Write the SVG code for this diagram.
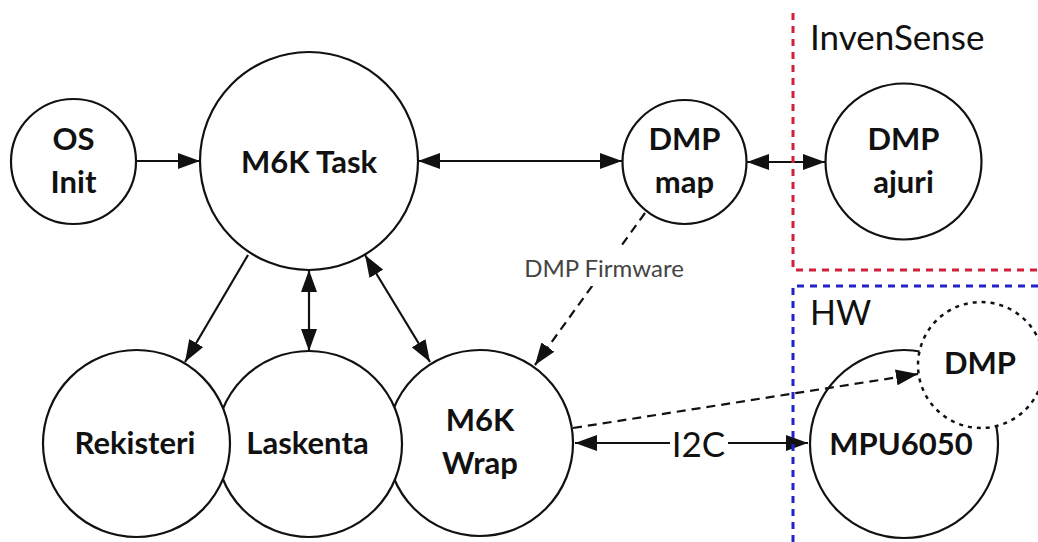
<svg xmlns="http://www.w3.org/2000/svg" width="1038" height="542" viewBox="0 0 1038 542">
<style>
.node{fill:#fff;stroke:#111;stroke-width:2.2}
.dot{fill:#fff;stroke:#111;stroke-width:2.5;stroke-dasharray:4 5}
.lbl{font-family:Lato,"Liberation Sans",sans-serif;font-weight:bold;font-size:31px;fill:#111;text-anchor:middle}
.reg{font-family:Lato,"Liberation Sans",sans-serif;font-weight:normal;fill:#111}
.c{fill:none;stroke:#111;stroke-width:2.2}
.dash{stroke-dasharray:9 6}
.red{fill:none;stroke:#d0203a;stroke-width:3;stroke-dasharray:7 6}
.blue{fill:none;stroke:#2222c8;stroke-width:3;stroke-dasharray:7 6}
</style>
<defs>
<marker id="arr" viewBox="0 0 22 16" refX="22" refY="8" markerWidth="22" markerHeight="16" markerUnits="userSpaceOnUse" orient="auto-start-reverse">
<path d="M0,0 L22,8 L0,16 z" fill="#111"/>
</marker>
</defs>
<rect width="1038" height="542" fill="#fff"/>

<g id="os-init"><circle class="node" cx="73.5" cy="161.5" r="62.5"/><text class="lbl" x="73.5" y="150">OS</text><text class="lbl" x="73.5" y="193">Init</text></g>
<g id="m6k-task"><circle class="node" cx="309" cy="161" r="109"/><text class="lbl" x="309" y="173">M6K Task</text></g>
<g id="dmp-map"><circle class="node" cx="684.5" cy="162" r="62"/><text class="lbl" x="684.5" y="150">DMP</text><text class="lbl" x="684.5" y="193">map</text></g>
<g id="dmp-ajuri"><circle class="node" cx="903.5" cy="161.5" r="78"/><text class="lbl" x="903.5" y="150">DMP</text><text class="lbl" x="903.5" y="193">ajuri</text></g>
<g id="m6k-wrap"><circle class="node" cx="480" cy="443" r="93"/><text class="lbl" x="480" y="431">M6K</text><text class="lbl" x="480" y="474">Wrap</text></g>
<g id="laskenta"><circle class="node" cx="309" cy="444" r="93"/><text class="lbl" x="307.5" y="454">Laskenta</text></g>
<g id="rekisteri"><circle class="node" cx="136.5" cy="443.5" r="93.5"/><text class="lbl" x="135" y="454">Rekisteri</text></g>
<g id="mpu6050"><circle class="node" cx="904" cy="444" r="94"/><text class="lbl" x="901" y="455">MPU6050</text></g>
<g id="dmp"><circle class="dot" cx="981" cy="365" r="63"/><text class="lbl" x="980" y="374">DMP</text></g>

<g id="connectors">
<path class="c" d="M136,161 L200,161" marker-end="url(#arr)"/>
<path class="c" d="M418,161 L622,161" marker-start="url(#arr)" marker-end="url(#arr)"/>
<path class="c" d="M747,162 L825,162" marker-start="url(#arr)" marker-end="url(#arr)"/>
<path class="c" d="M248,255 L185,362" marker-end="url(#arr)"/>
<path class="c" d="M309,270 L309,351" marker-start="url(#arr)" marker-end="url(#arr)"/>
<path class="c" d="M365,255 L430,362" marker-start="url(#arr)" marker-end="url(#arr)"/>
<path class="c dash" d="M645,213 L535,365" marker-end="url(#arr)"/>
<rect x="520" y="245" width="170" height="41" fill="#fff"/>
<text class="reg" x="604" y="277" font-size="24" fill="#444" text-anchor="middle" style="fill:#444">DMP Firmware</text>
<path class="c dash" d="M573,428 L918,374" marker-end="url(#arr)"/>
<path class="c" d="M575,443 L808,443" marker-start="url(#arr)" marker-end="url(#arr)"/>
<rect x="670" y="425" width="58" height="36" fill="#fff"/>
<text class="reg" x="698.5" y="457" font-size="35" text-anchor="middle">I2C</text>
</g>

<g id="boundaries">
<path class="red" d="M793,13 L793,270 L1038,270"/>
<path class="blue" d="M1038,286 L793,286 L793,542"/>
<text class="reg" x="810" y="50" font-size="35">InvenSense</text>
<text class="reg" x="810" y="325" font-size="34">HW</text>
</g>
</svg>
